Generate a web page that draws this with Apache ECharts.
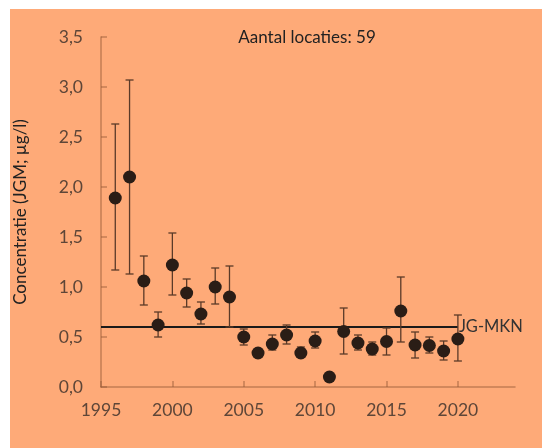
<!DOCTYPE html>
<html>
<head>
<meta charset="utf-8">
<script src="https://cdn.jsdelivr.net/npm/echarts@6/dist/echarts.min.js"></script>
<style>
html,body{margin:0;padding:0;background:#fff;}
#c{width:542px;height:448px;}
</style>
</head>
<body>
<div id="c"></div>
<script>
const years = [1996,1997,1998,1999,2000,2001,2002,2003,2004,2005,2006,2007,2008,2009,2010,2011,2012,2013,2014,2015,2016,2017,2018,2019,2020];
const means = [1.89,2.10,1.06,0.62,1.22,0.94,0.73,1.00,0.90,0.50,0.34,0.43,0.52,0.34,0.46,0.10,0.555,0.44,0.38,0.455,0.76,0.42,0.415,0.36,0.48];
const upper = [2.63,3.07,1.31,0.75,1.54,1.08,0.85,1.19,1.21,0.58,0.37,0.52,0.62,0.40,0.55,0.10,0.79,0.52,0.45,0.59,1.10,0.55,0.50,0.46,0.72];
const lower = [1.17,1.13,0.82,0.50,0.92,0.80,0.63,0.83,0.60,0.42,0.31,0.37,0.43,0.31,0.39,0.10,0.33,0.37,0.32,0.32,0.45,0.29,0.34,0.27,0.26];
const normValue = 0.6;
const normYears = [1995, 2020];
const normLabel = 'JG-MKN';
const xTicks = [1995,2000,2005,2010,2015,2020];
const titleText = 'Aantal locaties: 59';
const yName = 'Concentratie (JGM; µg/l)';

const chart = echarts.init(document.getElementById('c'));
const font = 'Lato, "Open Sans", sans-serif';
const axisCol = 'rgba(150,90,55,0.55)';
const labelCol = '#5e4638';

chart.setOption({
  backgroundColor: 'transparent',
  animation: false,
  graphic: [{type:'rect', left:10, top:9, shape:{width:532, height:439}, style:{fill:'#FEAA78'}, z:-10}],
  title: {text: titleText, left: 302, top: 24, textAlign:'center',
    textStyle:{fontFamily:font, fontSize:17, fontWeight:'normal', color:'#222'}},
  grid: {left:101, right:27, top:37, bottom:61},
  xAxis: {type:'value', min:1995, max:2024, interval:5,
    axisLine:{show:true, lineStyle:{color:axisCol, width:1.5}},
    axisTick:{show:true, inside:true, length:6, lineStyle:{color:axisCol, width:1.5}, customValues: xTicks},
    axisLabel:{color:labelCol, fontFamily:font, fontSize:17.5, margin:14, customValues: xTicks,
      formatter: v => String(v)},
    splitLine:{show:false}},
  yAxis: {type:'value', min:0, max:3.5, interval:0.5,
    name: yName, nameLocation:'middle', nameGap:72, nameRotate:90,
    nameTextStyle:{color:'#222', fontFamily:font, fontSize:17},
    axisLine:{show:true, lineStyle:{color:axisCol, width:1.5}},
    axisTick:{show:true, inside:true, length:6, lineStyle:{color:axisCol, width:1.5}},
    axisLabel:{color:labelCol, fontFamily:font, fontSize:17.5, margin:18,
      formatter: v => v.toFixed(1).replace('.', ',')},
    splitLine:{show:false}},
  series: [
    {type:'line', data: normYears.map(y => [y, normValue]), symbol:'none',
      lineStyle:{color:'#1a1a1a', width:2}, z:3,
      endLabel:{show:true, formatter: normLabel, color:'#333', fontFamily:font, fontSize:16.5, distance:1}},
    {type:'custom', z:4,
      data: years.map((y,i) => [y, lower[i], upper[i]]),
      renderItem: function(params, api){
        const x = api.value(0);
        const lo = api.coord([x, api.value(1)]);
        const hi = api.coord([x, api.value(2)]);
        const w = 4;
        const st = {stroke:'#5a3a28', lineWidth:1.3};
        return {type:'group', children:[
          {type:'line', shape:{x1:lo[0], y1:lo[1], x2:hi[0], y2:hi[1]}, style:st},
          {type:'line', shape:{x1:lo[0]-w, y1:lo[1], x2:lo[0]+w, y2:lo[1]}, style:st},
          {type:'line', shape:{x1:hi[0]-w, y1:hi[1], x2:hi[0]+w, y2:hi[1]}, style:st}
        ]};
      }},
    {type:'scatter', z:5, data: years.map((y,i) => [y, means[i]]), symbol:'circle', symbolSize:13,
      itemStyle:{color:'#2a1d16', opacity:1}}
  ]
});
</script>
</body>
</html>
